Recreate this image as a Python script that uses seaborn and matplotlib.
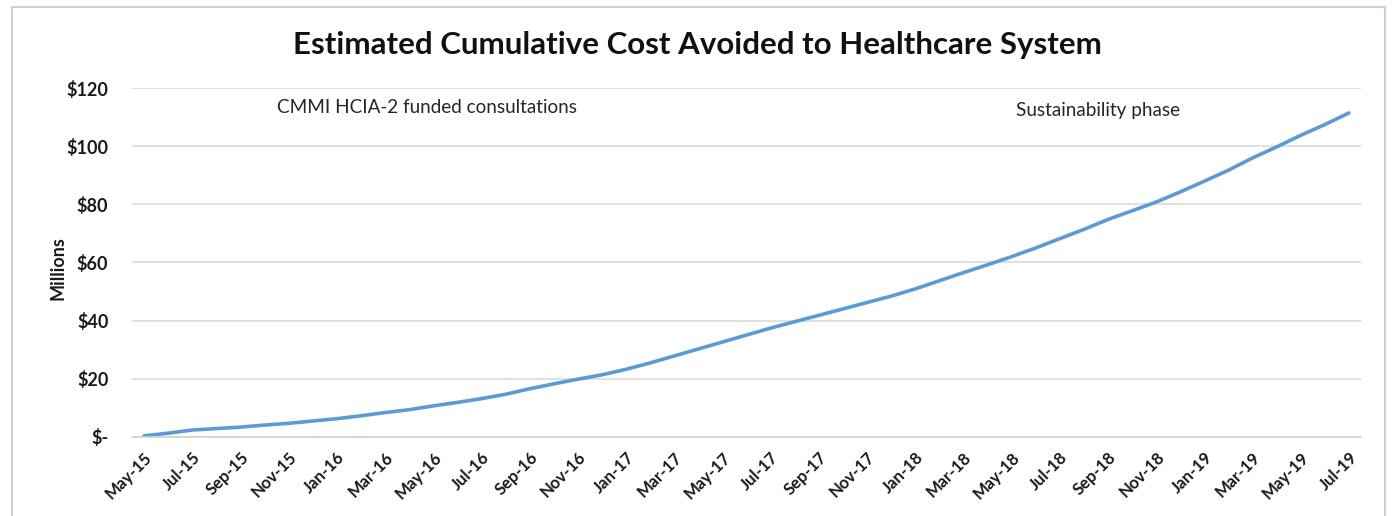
import matplotlib
matplotlib.use("Agg")
import matplotlib.pyplot as plt
import seaborn as sns
import pandas as pd
from matplotlib.patches import Rectangle

months = ["May-15", "Jun-15", "Jul-15", "Aug-15", "Sep-15", "Oct-15", "Nov-15", "Dec-15",
          "Jan-16", "Feb-16", "Mar-16", "Apr-16", "May-16", "Jun-16", "Jul-16", "Aug-16",
          "Sep-16", "Oct-16", "Nov-16", "Dec-16", "Jan-17", "Feb-17", "Mar-17", "Apr-17",
          "May-17", "Jun-17", "Jul-17", "Aug-17", "Sep-17", "Oct-17", "Nov-17", "Dec-17",
          "Jan-18", "Feb-18", "Mar-18", "Apr-18", "May-18", "Jun-18", "Jul-18", "Aug-18",
          "Sep-18", "Oct-18", "Nov-18", "Dec-18", "Jan-19", "Feb-19", "Mar-19", "Apr-19",
          "May-19", "Jun-19", "Jul-19"]
cost_millions = [0.3, 1.2, 2.3, 2.8, 3.3, 4.0, 4.6, 5.4, 6.2, 7.2, 8.3, 9.3, 10.6, 11.8, 13.1,
                 14.6, 16.5, 18.2, 19.8, 21.3, 23.2, 25.4, 27.8, 30.2, 32.6, 35.0, 37.4, 39.6,
                 41.8, 44.0, 46.2, 48.4, 50.9, 53.7, 56.5, 59.2, 62.0, 65.0, 68.2, 71.4, 74.8,
                 77.8, 80.8, 84.3, 88.0, 91.8, 96.0, 99.8, 103.8, 107.5, 111.5]
y_ticks = [0, 20, 40, 60, 80, 100, 120]
y_tick_labels = ["$-", "$20", "$40", "$60", "$80", "$100", "$120"]
title = "Estimated Cumulative Cost Avoided to Healthcare System"
phase_labels = ["CMMI HCIA-2 funded consultations", "Sustainability phase"]

df = pd.DataFrame({"idx": range(len(months)), "month": months, "cost": cost_millions})

sns.set_theme(style="white")
plt.rcParams["font.family"] = ["Lato", "DejaVu Sans"]

fig = plt.figure(figsize=(13.95, 5.16), dpi=100)
ax = fig.add_axes([0.0946, 0.1537, 0.9756 - 0.0946, 0.8289 - 0.1537])

# outer chart border
fig.patches.append(Rectangle((0.0086, -0.01), 0.9842, 0.996, transform=fig.transFigure,
                             fill=False, edgecolor="#D0D0D0", linewidth=1.5))

sns.lineplot(data=df, x="idx", y="cost", ax=ax, color="#5B9BD5", linewidth=2.6)

ax.set_xlim(-0.5, len(months) - 0.5)
ax.set_ylim(0, 120)
ax.set_yticks(y_ticks)
ax.set_yticklabels(y_tick_labels, fontweight="bold", fontsize=13, color="#1a1a1a")
ax.tick_params(axis="y", length=0, pad=17)
ax.yaxis.grid(True, color="#D9D9D9", linewidth=1.1)
ax.xaxis.grid(False)

ax.set_xticks(list(range(0, len(months), 2)))
ax.set_xticklabels(months[::2], rotation=45, ha="right", rotation_mode="anchor",
                   fontweight="bold", fontsize=12, color="#1a1a1a")
ax.tick_params(axis="x", length=0, pad=9)
ax.set_xticks([i - 0.5 for i in range(0, len(months) + 1, 2)], minor=True)
ax.tick_params(axis="x", which="minor", length=5, color="#D0D0D0", width=1, direction="out")

for s in ["top", "right", "left"]:
    ax.spines[s].set_visible(False)
ax.spines["bottom"].set_color("#D0D0D0")
ax.spines["bottom"].set_linewidth(1.1)

ax.set_xlabel("")
ax.set_ylabel("Millions", fontweight="bold", fontsize=13, color="#1a1a1a")
ax.yaxis.set_label_coords(-0.053, 0.484)

ax.text(5.5, 113.3, phase_labels[0], fontsize=13.6, color="#262626", va="center", ha="left")
ax.text(36.2, 112.5, phase_labels[1], fontsize=13.6, color="#262626", va="center", ha="left")

fig.text(0.5, 0.912, title, ha="center", va="center", fontsize=22.5, fontweight="bold",
         color="#111111")

fig.savefig("out.png", dpi=100)
